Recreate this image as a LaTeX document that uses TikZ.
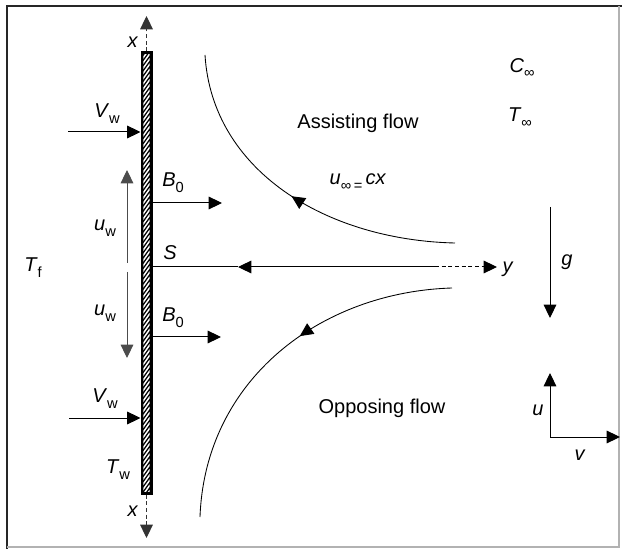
\documentclass[tikz,border=0pt]{standalone}
\usepackage{fontspec}
\setmainfont{Liberation Sans}
\usetikzlibrary{arrows.meta,decorations.markings}
\newcommand\lsub[1]{\raisebox{-0.55ex}{\fontsize{11}{12}\selectfont #1}}
\begin{document}
\begin{tikzpicture}[x=0.75pt,y=-0.75pt,
  lbl/.style={font=\fontsize{15}{17}\selectfont, inner sep=0pt},
  ln/.style={line width=0.75pt, black},
  arr/.style={ln, -{Triangle[length=10pt,width=9.5pt]}},
  grayarr/.style={arr, black!70},
  dsh/.style={dash pattern=on 3pt off 2pt},
  midarr/.style={postaction={decorate}, decoration={markings,
     mark=at position #1 with {\arrow{Triangle[length=10pt,width=9.5pt]}}}}]
\useasboundingbox (0,0) rectangle (622,549);
% frame
\draw[line width=2.2pt, black!85] (7,549) -- (7,6) -- (622,6);
\draw[line width=0.8pt, black!30] (7,547) -- (619,547) -- (619,6);
% plate
\node[draw=black, fill=black, line width=0.75pt, minimum width=8.25pt,
      minimum height=331.5pt, inner sep=0pt] (plate) at (146.5,273) {};
\begin{scope}
  \clip (143.3,54.5) rectangle (149.7,491.5);
  \foreach \k in {0,...,88} {\draw[white, line width=1.1pt] (140,57+\k*5.2) -- ++(10,-14);}
\end{scope}
% x axes
\coordinate (xtop) at (146.5,16);
\coordinate (xbot) at (146.5,538);
\draw[arr, dsh, black!80] (plate.north) -- (xtop);
\draw[arr, dsh, black!80] (plate.south) -- (xbot);
\node[lbl] (xl1) at (133,42) {\textit{x}};
\node[lbl] (xl2) at (133,511) {\textit{x}};
% V_w arrows
\coordinate (vw1) at (68,132);
\coordinate (vw2) at (69,418);
\draw[arr] (vw1) -- (plate.west |- vw1);
\draw[arr] (vw2) -- (plate.west |- vw2);
\node[lbl] (vwl1) at (107,114) {\textit{V}\lsub{w}};
\node[lbl] (vwl2) at (105,399) {\textit{V}\lsub{w}};
% u_w arrows
\coordinate (uw1a) at (127,263);
\coordinate (uw1b) at (127,170);
\coordinate (uw2a) at (127,272);
\coordinate (uw2b) at (127,358);
\draw[grayarr] (uw1a) -- (uw1b);
\draw[grayarr] (uw2a) -- (uw2b);
\node[lbl] (uwl1) at (105,228) {\textit{u}\lsub{w}};
\node[lbl] (uwl2) at (105,313) {\textit{u}\lsub{w}};
% B0 arrows
\coordinate (b1) at (222,203);
\coordinate (b2) at (221,337);
\draw[arr] (plate.east |- b1) -- (b1);
\draw[arr] (plate.east |- b2) -- (b2);
\node[lbl] (bl1) at (173,183) {\textit{B}\lsub{0}};
\node[lbl] (bl2) at (173,318) {\textit{B}\lsub{0}};
% S line and y axis
\coordinate (sm) at (238,267);
\coordinate (se) at (435,267);
\coordinate (ytip) at (497,267);
\draw[ln] (plate.east |- sm) -- (sm);
\draw[arr] (se) -- (sm);
\draw[arr, dsh] (se) -- (ytip);
\node[lbl] (sl) at (170,253) {\textit{S}};
\node[lbl] (yl) at (508,269) {\textit{y}};
% streamlines
\coordinate (c1s) at (455,243);
\coordinate (c1e) at (205,55);
\coordinate (c2s) at (452,288);
\coordinate (c2e) at (200,517);
\draw[ln, line width=0.65pt, midarr=0.5] (c1s) .. controls (325,240) and (212,170) .. (c1e);
\draw[ln, line width=0.65pt, midarr=0.43] (c2s) .. controls (320,292) and (205,380) .. (c2e);
% texts
\node[lbl] (assist) at (358,123) {Assisting flow};
\node[lbl] (oppose) at (382,408) {Opposing flow};
\node[lbl] (uinf) at (358,182) {\textit{u}\lsub{∞\,=}\,\textit{cx}};
\node[lbl] (cinf) at (522,68) {\textit{C}\lsub{∞}};
\node[lbl] (tinf) at (520,118) {\textit{T}\lsub{∞}};
\node[lbl] (tf) at (33,268) {\textit{T}\lsub{f}};
\node[lbl] (tw) at (118,470) {\textit{T}\lsub{w}};
% gravity
\coordinate (g1) at (550,207);
\coordinate (g2) at (550,318);
\draw[arr] (g1) -- (g2);
\node[lbl] (gl) at (567,262) {\textit{g}};
% u v axes
\coordinate (o) at (550,437);
\coordinate (ou) at (550,373);
\coordinate (ov) at (620,437);
\draw[arr] (o) -- (ou);
\draw[arr] (o) -- (ov);
\node[lbl] (ul) at (538,410) {\textit{u}};
\node[lbl] (vl) at (580,455) {\textit{v}};
\end{tikzpicture}
\end{document}
